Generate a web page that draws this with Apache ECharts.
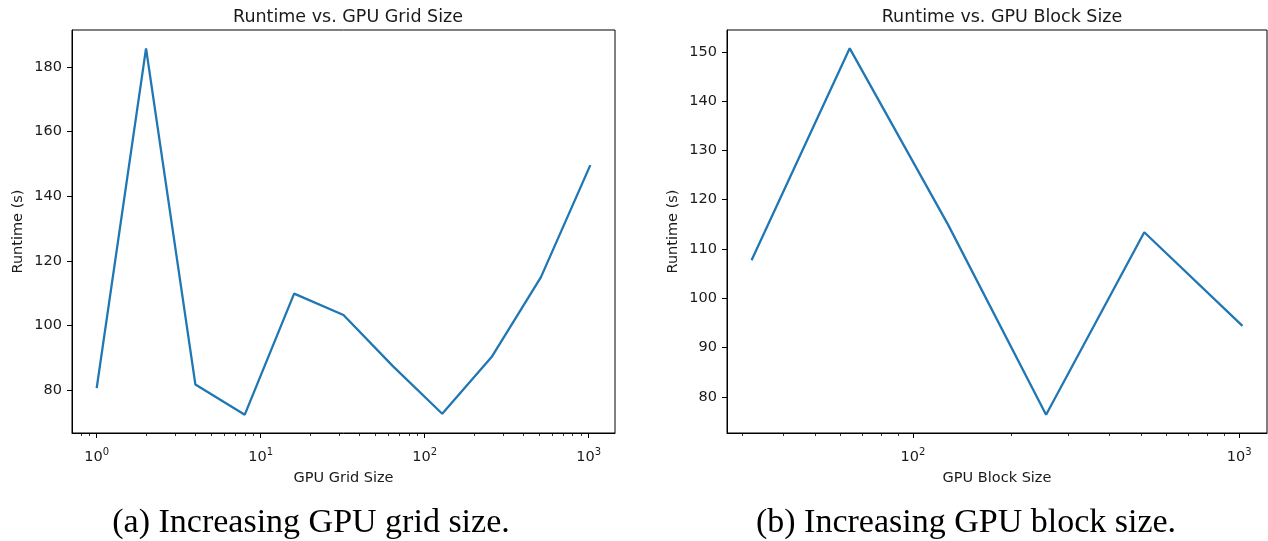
<!DOCTYPE html>
<html>
	<head>
		<meta charset="utf-8">
		<title>runtime vs gpu size</title>
		<script src="https://cdn.jsdelivr.net/npm/echarts@6.0.0/dist/echarts.min.js"></script>
		<style>
			html,body{margin:0;padding:0;background:#fff;}
			#x{width:1268px;height:541px;}
		</style>
	</head>
	<body>
		<div id="x"></div>
	</body>

	<script type="text/javascript">
		// (a) grid size
		var gridSizes=[1,2,4,8,16,32,64,128,256,512,1024];
		var gridRuntime=[80.7,185.7,81.8,72.5,109.9,103.3,87.5,72.8,90.3,115.0,149.6];
		// (b) block size
		var blockSizes=[32,64,128,256,512,1024];
		var blockRuntime=[107.7,150.7,115.0,76.4,113.4,94.4];

		var gridXTicks=[1,10,100,1000];
		var gridXMinor=[0.8,0.9,2,3,4,5,6,7,8,9,20,30,40,50,60,70,80,90,200,300,400,500,600,700,800,900];
		var gridYTicks=[80,100,120,140,160,180];
		var blockXTicks=[100,1000];
		var blockXMinor=[30,40,50,60,70,80,90,200,300,400,500,600,700,800,900];
		var blockYTicks=[80,90,100,110,120,130,140,150];

		var titles=["Runtime vs. GPU Grid Size","Runtime vs. GPU Block Size"];
		var xNames=["GPU Grid Size","GPU Block Size"];
		var yName="Runtime (s)";
		var captions=["(a) Increasing GPU grid size.","(b) Increasing GPU block size."];

		var ink='#1a1a1a';
		var sans='DejaVu Sans';

		// matplotlib style 5% margins
		function logRange(arr){
			var a=Math.log10(Math.min.apply(null,arr)), b=Math.log10(Math.max.apply(null,arr));
			var m=(b-a)*0.05;
			return [Math.pow(10,a-m),Math.pow(10,b+m)];
		}
		function linRange(arr){
			var a=Math.min.apply(null,arr), b=Math.max.apply(null,arr);
			var m=(b-a)*0.05;
			return [a-m,b+m];
		}

		function powLabel(v){
			return '{b|10}{s|'+Math.round(Math.log10(v))+'}';
		}

		function xMajor(gi,ticks,range,name){
			return {
				gridIndex:gi, type:'log', logBase:10, position:'bottom',
				min:range[0], max:range[1],
				name:name, nameLocation:'middle', nameGap:38,
				nameTextStyle:{fontFamily:sans,fontSize:14.5,color:ink},
				axisLine:{lineStyle:{color:'#000',width:1}},
				axisTick:{customValues:ticks,length:5,lineStyle:{color:'#000',width:1}},
				axisLabel:{
					customValues:ticks, margin:14, formatter:powLabel,
					rich:{
						b:{fontFamily:sans,fontSize:14.5,color:ink,lineHeight:18,verticalAlign:'bottom'},
						s:{fontFamily:sans,fontSize:10,color:ink,lineHeight:10,verticalAlign:'top'}
					}
				},
				splitLine:{show:false}
			};
		}
		function xMinor(gi,ticks,range){
			return {
				gridIndex:gi, type:'log', logBase:10, position:'bottom',
				min:range[0], max:range[1],
				axisLine:{show:false},
				axisTick:{customValues:ticks,length:3,lineStyle:{color:'#000',width:0.8}},
				axisLabel:{show:false},
				splitLine:{show:false}
			};
		}
		function yAxisOf(gi,ticks,range){
			return {
				gridIndex:gi, type:'value',
				min:range[0], max:range[1],
				name:yName, nameLocation:'middle', nameGap:46,
				nameTextStyle:{fontFamily:sans,fontSize:14.5,color:ink},
				axisLine:{show:true,lineStyle:{color:'#000',width:1}},
				axisTick:{show:true,customValues:ticks,length:5,lineStyle:{color:'#000',width:1}},
				axisLabel:{customValues:ticks,margin:10,fontFamily:sans,fontSize:14.5,color:ink},
				splitLine:{show:false}
			};
		}

		var gxr=logRange(gridSizes), gyr=linRange(gridRuntime);
		var bxr=logRange(blockSizes), byr=linRange(blockRuntime);

		var option={
			backgroundColor:'#fff',
			animation:false,
			title:[
				{text:titles[0],left:343,top:3,textAlign:'center',textStyle:{fontFamily:sans,fontSize:17.5,fontWeight:'normal',color:ink}},
				{text:titles[1],left:997,top:3,textAlign:'center',textStyle:{fontFamily:sans,fontSize:17.5,fontWeight:'normal',color:ink}}
			],
			grid:[
				{left:72,top:30,width:543,height:403,show:true,borderColor:'#000',borderWidth:1,backgroundColor:'#fff'},
				{left:727,top:30,width:540,height:403,show:true,borderColor:'#000',borderWidth:1,backgroundColor:'#fff'}
			],
			xAxis:[
				xMajor(0,gridXTicks,gxr,xNames[0]),
				xMinor(0,gridXMinor,gxr),
				xMajor(1,blockXTicks,bxr,xNames[1]),
				xMinor(1,blockXMinor,bxr)
			],
			yAxis:[
				yAxisOf(0,gridYTicks,gyr),
				yAxisOf(1,blockYTicks,byr)
			],
			series:[
				{
					type:'line', xAxisIndex:0, yAxisIndex:0, showSymbol:false,
					lineStyle:{color:'#1f77b4',width:2.3},
					data:gridSizes.map(function(v,i){return [v,gridRuntime[i]];})
				},
				{
					type:'line', xAxisIndex:2, yAxisIndex:1, showSymbol:false,
					lineStyle:{color:'#1f77b4',width:2.3},
					data:blockSizes.map(function(v,i){return [v,blockRuntime[i]];})
				}
			],
			graphic:[
				{type:'text',x:311,y:523,style:{text:captions[0],fontFamily:'Liberation Serif',fontSize:34,fill:'#000',textAlign:'center',textVerticalAlign:'middle'}},
				{type:'text',x:966,y:523,style:{text:captions[1],fontFamily:'Liberation Serif',fontSize:34,fill:'#000',textAlign:'center',textVerticalAlign:'middle'}}
			]
		};

		var mychart=echarts.init(document.getElementById("x"));
		mychart.setOption(option);
	</script>
</html>
